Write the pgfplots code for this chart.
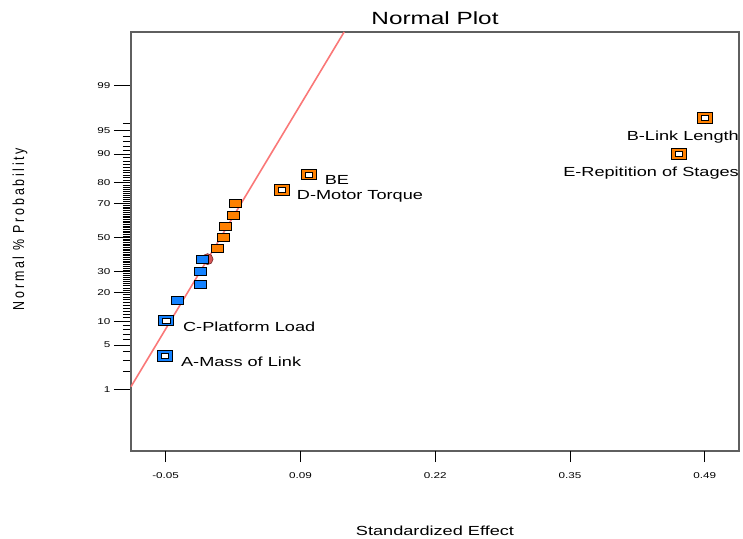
\documentclass[border=0pt]{standalone}
\usepackage{pgfplots}
\pgfplotsset{compat=1.18}
\usepackage{pgfplotstable}
\usepackage{fontspec}
\setmainfont{Liberation Sans}[FakeStretch=1.38]
\newfontfamily\ylabfont{Liberation Sans}[FakeStretch=0.78,LetterSpace=17]

\definecolor{dxorange}{RGB}{255,128,0}
\definecolor{dxblue}{RGB}{20,130,255}
\definecolor{dxline}{RGB}{250,120,120}
\definecolor{dxred}{RGB}{215,85,85}
\definecolor{axisgray}{RGB}{95,95,95}

% effects: x = standardized effect, y = normal score (probit)
\pgfplotstableread{
x       y
-0.0510 -1.814
-0.0494 -1.273
}\bluehollow
\pgfplotstableread{
x       y
-0.0384 -0.960
-0.0157 -0.721
-0.0157 -0.515
-0.0130 -0.331
}\bluesolid
\pgfplotstableread{
x       y
0.0021  -0.163
0.0074  0.006
0.0097  0.175
0.0174  0.344
0.0197  0.528
}\orangesolid
\pgfplotstableread{
x       y
0.0661  0.732
0.0931  0.966
0.4638  1.284
0.4898  1.836
}\orangehollow

\begin{document}
\begin{tikzpicture}
\useasboundingbox (-131bp,-88bp) rectangle (612bp,451bp);
\begin{axis}[
  scale only axis, width=608bp, height=419bp,
  xmin=-0.0847, xmax=0.5243, ymin=-3.271, ymax=3.150,
  clip=false,
  axis line style={axisgray, line width=1.4bp},
  tick align=outside, tick pos=left,
  major tick length=17bp, minor tick length=8bp,
  tick style={black, line width=0.7bp},
  xtick=\empty,
  extra x ticks={-0.05,0.085,0.22,0.355,0.49},
  extra x tick labels={-0.05,0.09,0.22,0.35,0.49},
  extra x tick style={major tick length=11bp,
    xticklabel style={yshift=-7bp}},
  ytick={-2.326,-1.645,-1.282,-0.842,-0.524,0,0.524,0.842,1.282,1.645,2.326},
  yticklabels={1,5,10,20,30,50,70,80,90,95,99},
  minor ytick={-2.054,-1.881,-1.751,-1.555,-1.476,-1.405,-1.341,
    -1.227,-1.175,-1.126,-1.080,-1.036,-0.994,-0.954,-0.915,-0.878,
    -0.806,-0.772,-0.739,-0.706,-0.674,-0.643,-0.613,-0.583,-0.553,
    -0.496,-0.468,-0.440,-0.412,-0.385,-0.358,-0.332,-0.305,-0.279,-0.253,
    -0.228,-0.202,-0.176,-0.151,-0.126,-0.100,-0.075,-0.050,-0.025,
    0.025,0.050,0.075,0.100,0.126,0.151,0.176,0.202,0.228,0.253,
    0.279,0.305,0.332,0.358,0.385,0.412,0.440,0.468,0.496,
    0.553,0.583,0.613,0.643,0.674,0.706,0.739,0.772,0.806,
    0.878,0.915,0.954,0.994,1.036,1.080,1.126,1.175,1.227,
    1.341,1.405,1.476,1.555,1.751},
  ticklabel style={font=\fontsize{8.5}{10}\selectfont},
  title={\fontsize{17.7}{20}\selectfont Normal Plot},
  title style={at={(0.5,1.019)}, anchor=center},
  xlabel={\fontsize{13.2}{15}\selectfont Standardized Effect},
  xlabel style={at={(0.5,-0.1909)}, anchor=center},
  ylabel={\ylabfont\fontsize{16}{18}\selectfont Normal \% Probability},
  ylabel style={at={(-0.1826,0.53)}, anchor=center},
]
\addplot[dxline, line width=1.6bp] coordinates {(-0.0847,-2.285) (0.1288,3.150)};
\addplot[only marks, mark=*, mark size=5.5bp,
  mark options={fill=dxred, draw={rgb,255:red,120;green,40;blue,40}, line width=0.6bp}]
  coordinates {(-0.008,-0.331)};
\addplot[only marks, mark=square*, mark size=4bp,
  mark options={xscale=1.5, fill=dxblue, draw=black, line width=0.7bp}]
  table[x=x,y=y] {\bluesolid};
\addplot[only marks, mark=square*, mark size=4bp,
  mark options={xscale=1.5, fill=dxorange, draw=black, line width=0.7bp}]
  table[x=x,y=y] {\orangesolid};
\addplot[only marks, mark=square*, mark size=5.15bp,
  mark options={xscale=1.46, fill=dxblue, draw=black, line width=0.7bp}]
  table[x=x,y=y] {\bluehollow};
\addplot[only marks, mark=square*, mark size=2.4bp,
  mark options={xscale=1.5, fill=white, draw=black, line width=0.6bp}]
  table[x=x,y=y] {\bluehollow};
\addplot[only marks, mark=square*, mark size=5.15bp,
  mark options={xscale=1.46, fill=dxorange, draw=black, line width=0.7bp}]
  table[x=x,y=y] {\orangehollow};
\addplot[only marks, mark=square*, mark size=2.4bp,
  mark options={xscale=1.5, fill=white, draw=black, line width=0.6bp}]
  table[x=x,y=y] {\orangehollow};
\begin{scope}[every node/.style={inner sep=0pt, font=\fontsize{13.2}{15}\selectfont}]
\node[anchor=base west] at (axis cs:-0.0347,-1.975) {A-Mass of Link};
\node[anchor=base west] at (axis cs:-0.0327,-1.439) {C-Platform Load};
\node[anchor=base west] at (axis cs:0.0813,0.586) {D-Motor Torque};
\node[anchor=base west] at (axis cs:0.1093,0.816) {BE};
\node[anchor=base east] at (axis cs:0.5243,1.491) {B-Link Length};
\node[anchor=base east] at (axis cs:0.5243,0.939) {E-Repitition of Stages};
\end{scope}
\end{axis}
\end{tikzpicture}
\end{document}
